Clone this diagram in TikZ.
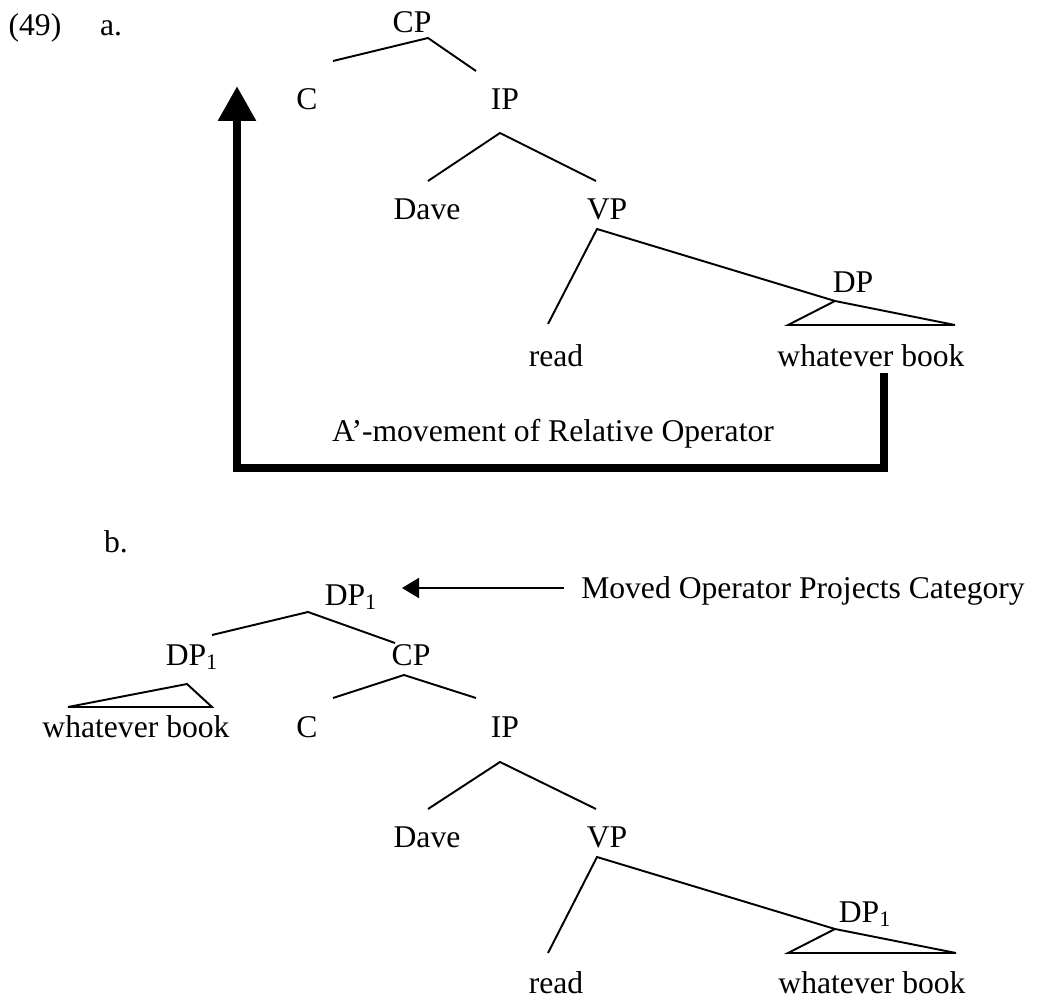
\documentclass[tikz,border=0pt]{standalone}
\usepackage{fontspec}
\setmainfont{Liberation Serif}
\usepackage{tikz}
\usetikzlibrary{arrows.meta}

\begin{document}
\begin{tikzpicture}[
    x=0.02cm, y=-0.02cm,
    lbl/.style={
        inner sep=0pt,
        anchor=base,
        font=\fontsize{18}{20}\selectfont
    },
    branch/.style={line width=1.1pt, line join=miter},
    movement/.style={line width=5pt, line join=miter,
        -{Triangle[length=0.7cm, width=0.72cm]}},
    projects/.style={line width=1.1pt,
        -{Triangle[length=0.34cm, width=0.4cm]}}
]
\useasboundingbox (0,0) rectangle (1037,999);

% (49a) labels
\node[lbl] (num) at (35,36) {(49)};
\node[lbl] (ia) at (111,36) {a.};
\node[lbl] (aCP) at (412,33) {CP};
\node[lbl] (aC) at (307,110) {C};
\node[lbl] (aIP) at (505,110) {IP};
\node[lbl] (aDave) at (427,220) {Dave};
\node[lbl] (aVP) at (607,220) {VP};
\node[lbl] (aDP) at (853,293) {DP};
\node[lbl] (aRead) at (556,367) {read};
\node[lbl] (aWB) at (871,367) {whatever book};
\node[lbl] (aMove) at (553,442) {A’-movement of Relative Operator};

% (49a) branch points
\coordinate (aCP-b) at (428,38);
\coordinate (aC-t) at (333,61);
\coordinate (aIP-t) at (476,71);
\coordinate (aIP-b) at (500,133);
\coordinate (aDave-t) at (428,181);
\coordinate (aVP-t) at (596,181);
\coordinate (aVP-b) at (597,229);
\coordinate (aRead-t) at (548,324);
\coordinate (aDP-b) at (835,301);
\coordinate (aWB-l) at (788,325);
\coordinate (aWB-r) at (955,325);

% (49a) branches
\draw[branch] (aC-t) -- (aCP-b) -- (aIP-t);
\draw[branch] (aDave-t) -- (aIP-b) -- (aVP-t);
\draw[branch] (aRead-t) -- (aVP-b) -- (aDP-b);
\draw[branch] (aDP-b) -- (aWB-r) -- (aWB-l) -- cycle;

% movement arrow
\coordinate (mvStart) at (884,373);
\coordinate (mvBottom) at (237,468);
\coordinate (mvEnd) at (237,86);
\draw[movement] (mvStart) |- (mvBottom) -- (mvEnd);

% (49b) labels
\node[lbl] (ib) at (116,552) {b.};
\node[lbl] (bDPtop) at (351,605) {DP\textsubscript{1}};
\node[lbl] (moved) at (803,598) {Moved Operator Projects Category};
\node[lbl] (bDP) at (192,665) {DP\textsubscript{1}};
\node[lbl] (bCP) at (411,665) {CP};
\node[lbl] (bWBtop) at (136,737) {whatever book};
\node[lbl] (bC) at (307,737) {C};
\node[lbl] (bIP) at (505,737) {IP};
\node[lbl] (bDave) at (427,847) {Dave};
\node[lbl] (bVP) at (607,847) {VP};
\node[lbl] (bDPlow) at (865,922) {DP\textsubscript{1}};
\node[lbl] (bRead) at (556,993) {read};
\node[lbl] (bWB) at (872,993) {whatever book};

% (49b) branch points
\coordinate (bDPtop-b) at (308,612);
\coordinate (bDP-t) at (212,635);
\coordinate (bCP-t) at (395,643);
\coordinate (bDP-b) at (187,684);
\coordinate (bWBtop-r) at (212,707);
\coordinate (bWBtop-l) at (68,707);
\coordinate (bCP-b) at (404,675);
\coordinate (bC-t) at (333,698);
\coordinate (bIP-t) at (476,698);
\coordinate (bIP-b) at (500,762);
\coordinate (bDave-t) at (428,809);
\coordinate (bVP-t) at (596,809);
\coordinate (bVP-b) at (597,857);
\coordinate (bRead-t) at (548,953);
\coordinate (bDPlow-b) at (835,929);
\coordinate (bWB-l) at (788,953);
\coordinate (bWB-r) at (956,953);

% (49b) branches
\draw[branch] (bDP-t) -- (bDPtop-b) -- (bCP-t);
\draw[branch] (bDP-b) -- (bWBtop-r) -- (bWBtop-l) -- cycle;
\draw[branch] (bC-t) -- (bCP-b) -- (bIP-t);
\draw[branch] (bDave-t) -- (bIP-b) -- (bVP-t);
\draw[branch] (bRead-t) -- (bVP-b) -- (bDPlow-b);
\draw[branch] (bDPlow-b) -- (bWB-r) -- (bWB-l) -- cycle;

% projection arrow
\coordinate (projTip) at (402,588);
\draw[projects, shorten <=0.34cm] (moved.west |- projTip) -- (projTip);

\end{tikzpicture}
\end{document}
